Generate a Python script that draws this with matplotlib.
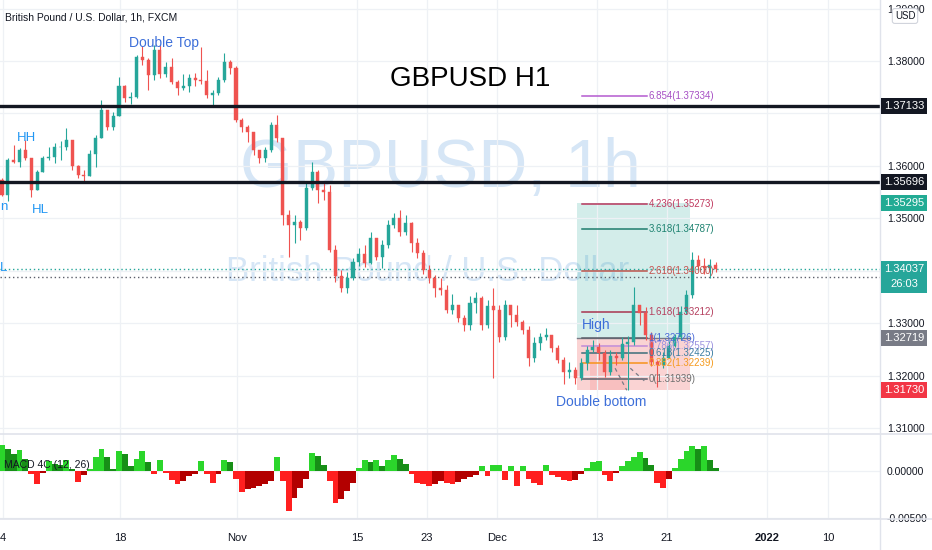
import numpy as np
import matplotlib
matplotlib.use("Agg")
import matplotlib.pyplot as plt
from matplotlib import font_manager, transforms
from matplotlib.patches import Rectangle
from matplotlib.lines import Line2D

first_open = 1.3573
closes = np.array([
    1.3544, 1.3611, 1.3607, 1.3630, 1.3615, 1.3554, 1.3588, 1.3615, 1.3617, 1.3636,
    1.3636, 1.3649, 1.3600, 1.3583, 1.3581, 1.3623, 1.3653, 1.3707, 1.3674, 1.3695,
    1.3752, 1.3729, 1.3731, 1.3808, 1.3802, 1.3773, 1.3821, 1.3775, 1.3789, 1.3760,
    1.3749, 1.3752, 1.3768, 1.3764, 1.3762, 1.3735, 1.3739, 1.3764, 1.3798, 1.3787,
    1.3688, 1.3674, 1.3665, 1.3630, 1.3615, 1.3630, 1.3678, 1.3653, 1.3506, 1.3487,
    1.3493, 1.3481, 1.3558, 1.3588, 1.3554, 1.3550, 1.3440, 1.3390, 1.3367, 1.3386,
    1.3417, 1.3432, 1.3415, 1.3462, 1.3426, 1.3449, 1.3487, 1.3501, 1.3474, 1.3491,
    1.3453, 1.3434, 1.3402, 1.3386, 1.3367, 1.3364, 1.3326, 1.3335, 1.3310, 1.3297,
    1.3339, 1.3348, 1.3297, 1.3333, 1.3326, 1.3273, 1.3335, 1.3316, 1.3302, 1.3287,
    1.3234, 1.3262, 1.3273, 1.3278, 1.3253, 1.3230, 1.3207, 1.3211, 1.3195, 1.3224,
    1.3249, 1.3255, 1.3243, 1.3207, 1.3237, 1.3234, 1.3260, 1.3264, 1.3335, 1.3320,
    1.3278, 1.3226, 1.3220, 1.3234, 1.3257, 1.3273, 1.3321, 1.3354, 1.3421, 1.3409,
    1.3405, 1.3411, 1.3404])
highs = np.array([
    1.3577, 1.3615, 1.3640, 1.3634, 1.3649, 1.3611, 1.3592, 1.3619, 1.3636, 1.3644,
    1.3647, 1.3672, 1.3634, 1.3602, 1.3592, 1.3630, 1.3659, 1.3726, 1.3707, 1.3703,
    1.3770, 1.3754, 1.3741, 1.3811, 1.3829, 1.3806, 1.3830, 1.3830, 1.3798, 1.3806,
    1.3764, 1.3775, 1.3775, 1.3777, 1.3827, 1.3783, 1.3745, 1.3770, 1.3815, 1.3802,
    1.3790, 1.3691, 1.3678, 1.3663, 1.3626, 1.3636, 1.3684, 1.3697, 1.3630, 1.3516,
    1.3506, 1.3497, 1.3567, 1.3607, 1.3592, 1.3567, 1.3564, 1.3449, 1.3402, 1.3398,
    1.3424, 1.3443, 1.3449, 1.3474, 1.3462, 1.3459, 1.3497, 1.3510, 1.3516, 1.3506,
    1.3493, 1.3462, 1.3440, 1.3411, 1.3392, 1.3386, 1.3373, 1.3356, 1.3335, 1.3316,
    1.3352, 1.3360, 1.3352, 1.3345, 1.3367, 1.3335, 1.3345, 1.3330, 1.3335, 1.3306,
    1.3295, 1.3273, 1.3282, 1.3291, 1.3274, 1.3258, 1.3235, 1.3226, 1.3216, 1.3234,
    1.3257, 1.3268, 1.3262, 1.3249, 1.3249, 1.3245, 1.3273, 1.3276, 1.3369, 1.3335,
    1.3330, 1.3284, 1.3230, 1.3245, 1.3268, 1.3280, 1.3333, 1.3364, 1.3436, 1.3430,
    1.3424, 1.3422, 1.3417])
lows = np.array([
    1.3543, 1.3533, 1.3605, 1.3598, 1.3611, 1.3541, 1.3554, 1.3592, 1.3611, 1.3605,
    1.3611, 1.3630, 1.3592, 1.3577, 1.3567, 1.3581, 1.3598, 1.3663, 1.3668, 1.3668,
    1.3703, 1.3722, 1.3718, 1.3729, 1.3792, 1.3745, 1.3764, 1.3768, 1.3770, 1.3756,
    1.3735, 1.3745, 1.3741, 1.3752, 1.3756, 1.3729, 1.3714, 1.3735, 1.3760, 1.3775,
    1.3684, 1.3665, 1.3646, 1.3621, 1.3605, 1.3607, 1.3626, 1.3646, 1.3487, 1.3426,
    1.3453, 1.3459, 1.3478, 1.3554, 1.3529, 1.3535, 1.3436, 1.3379, 1.3360, 1.3358,
    1.3382, 1.3409, 1.3407, 1.3413, 1.3421, 1.3405, 1.3443, 1.3481, 1.3466, 1.3468,
    1.3436, 1.3424, 1.3394, 1.3377, 1.3350, 1.3354, 1.3320, 1.3318, 1.3302, 1.3285,
    1.3287, 1.3320, 1.3287, 1.3291, 1.3195, 1.3264, 1.3268, 1.3293, 1.3295, 1.3280,
    1.3218, 1.3226, 1.3249, 1.3268, 1.3245, 1.3224, 1.3184, 1.3195, 1.3184, 1.3192,
    1.3211, 1.3245, 1.3230, 1.3197, 1.3201, 1.3220, 1.3230, 1.3173, 1.3258, 1.3297,
    1.3268, 1.3218, 1.3178, 1.3215, 1.3237, 1.3255, 1.3268, 1.3318, 1.3348, 1.3402,
    1.3394, 1.3386, 1.3398])
macd_hist = np.array([
    0.0027, 0.0023, 0.0018, 0.0022, 0.0013, -0.0003, -0.0014, -0.0002, 0.0010, 0.0007,
    0.0006, 0.0011, 0.0002, -0.0012, -0.0005, 0.0002, 0.0015, 0.0023, 0.0015, 0.0002,
    0.0021, 0.0018, 0.0005, 0.0013, 0.0021, 0.0009, -0.0004, 0.0011, -0.0002, -0.0010,
    -0.0014, -0.0011, -0.0006, -0.0004, 0.0010, -0.0004, -0.0013, -0.0003, 0.0011, 0.0009,
    -0.0009, -0.0023, -0.0020, -0.0019, -0.0016, -0.0014, -0.0011, 0.0015, -0.0011, -0.0043,
    -0.0029, -0.0019, -0.0009, 0.0019, 0.0016, 0.0006, -0.0011, -0.0035, -0.0030, -0.0022,
    -0.0013, 0.0003, 0.0011, 0.0009, 0.0011, 0.0005, 0.0011, 0.0017, 0.0012, 0.0007,
    -0.0003, -0.0013, -0.0014, -0.0016, -0.0014, -0.0011, -0.0013, -0.0014, -0.0012, -0.0009,
    -0.0007, -0.0005, 0.0005, -0.0006, 0.0006, 0.0006, -0.0010, 0.0005, -0.0016, 0.0005,
    -0.0009, -0.0013, -0.0015, 0.0006, -0.0005, -0.0007, -0.0010, -0.0011, -0.0010, -0.0004,
    0.0003, 0.0009, 0.0010, -0.0005, -0.0011, -0.0002, 0.0005, 0.0010, 0.0015, 0.0020,
    0.0014, 0.0006, -0.0013, -0.0019, -0.0009, 0.0003, 0.0013, 0.0021, 0.0026, 0.0023,
    0.0026, 0.0011, 0.0003])

# time axis in trading days since Oct 4
date_labels = ['4', '18', 'Nov', '15', '23', 'Dec', '13', '21', '2022', '10']
date_pos = [0.1, 10.1, 20.1, 30.35, 36.3, 42.3, 50.85, 56.85, 65.4, 70.6]

hlines = [1.37133, 1.35696]
last_price = 1.34037
prev_close = 1.3388
countdown = '26:03'
target, entry, stop = 1.35295, 1.32719, 1.31730
pos_start, pos_end = 49.15, 58.8

fib_ratios = [6.854, 4.236, 3.618, 2.618, 1.618, 1, 0.786, 0.618, 0.382, 0]
fib_prices = [1.37334, 1.35273, 1.34787, 1.34000, 1.33212, 1.32726, 1.32557, 1.32425, 1.32239, 1.31939]
fib_line_c = ['#b45ad0', '#b8365c', '#1e7d6e', '#b5524a', '#a8344f', '#5d606b', '#c08ad8', '#3d6e7a', '#f7931a', '#5d606b']
fib_text_c = ['#a64fc4', '#c0395f', '#1d8270', '#c4514d', '#b5405f', '#4a6ad8', '#9d93e0', '#3c7ea2', '#f59b1e', '#707070']
fib_start, fib_end = 49.6, 55.1
fib_trend_x = [52.4, 53.4, np.nan, 53.7, 55.0]
fib_trend_y = [1.3214, 1.3172, np.nan, 1.3214, 1.3188]

# ---- fonts ----
avail = {f.name for f in font_manager.fontManager.ttflist}
narrow = [f for f in ('Liberation Sans Narrow', 'Arial Narrow') if f in avail]
FONT = narrow[0] if narrow else 'Liberation Sans'
plt.rcParams['font.family'] = [FONT, 'DejaVu Sans']

W, H = 932, 550
fig = plt.figure(figsize=(W / 100, H / 100), dpi=100, facecolor='white')
ax = fig.add_axes([0, 1 - 434 / H, 880 / W, 434 / H])
ax2 = fig.add_axes([0, 1 - 519 / H, 880 / W, 85 / H], sharex=ax)

t = np.arange(len(closes)) * 0.5
ymin, ymax = 1.308857, 1.391634
ax.set_xlim(-0.171, 75.04)
ax.set_ylim(ymin, ymax)
pxp = (ymax - ymin) / 434  # price per pixel

UP, DN = '#26a69a', '#ef5350'
opens = np.concatenate([[first_open], closes[:-1]])
col = np.where(closes >= opens, UP, DN)
hi = np.maximum(highs, np.maximum(opens, closes))
lo = np.minimum(lows, np.minimum(opens, closes))
ax.vlines(t, lo, hi, colors=col, lw=0.8, zorder=4)
body = np.maximum(np.abs(closes - opens), 0.00008)
ax.bar(t, body, bottom=np.minimum(opens, closes), width=0.26, color=col,
       edgecolor=col, lw=0.3, zorder=5)

# watermarks and labels
wm = '#d6e6f6'
ax.text(0.5, 0.61, 'GBPUSD, 1h', transform=ax.transAxes, ha='center', va='center',
        fontsize=49, color=wm, zorder=0.5)
ax.text(0.486, 0.375, 'British Pound / U.S. Dollar', transform=ax.transAxes,
        ha='center', va='center', fontsize=25, color=wm, zorder=0.5)
ax.text(0.534, 0.818, 'GBPUSD H1', transform=ax.transAxes, ha='center', va='center',
        fontsize=20, color='black', zorder=6)

blue = '#3d6fd9'
ax.text(13.85, 1.3834, 'Double Top', ha='center', va='center', fontsize=10, color=blue, zorder=6)
ax.text(51.2, 1.3150, 'Double bottom', ha='center', va='center', fontsize=10, color=blue, zorder=6)
ax.text(49.57, 1.3297, 'High', ha='left', va='center', fontsize=10, color=blue, zorder=6)
ax.text(2.1, 1.3653, 'HH', ha='center', va='center', fontsize=9.5, color='#2196f3', zorder=6)
ax.text(3.25, 1.3516, 'HL', ha='center', va='center', fontsize=9.5, color='#2196f3', zorder=6)
ax.text(-0.2, 1.3522, 'n', ha='left', va='center', fontsize=9.5, color='#2196f3', zorder=6)
ax.text(-0.2, 1.3406, 'L', ha='left', va='center', fontsize=9.5, color='#2196f3', zorder=6)

# horizontal levels
for p in hlines:
    ax.axhline(p, color='#131722', lw=2.4, zorder=6)
ax.axhline(last_price, color='#26a69a', lw=1, ls=(0, (1, 2)), zorder=3)
ax.axhline(prev_close, color='#5d606b', lw=1, ls=(0, (1, 2)), zorder=3)

# long position tool
ax.add_patch(Rectangle((pos_start, entry), pos_end - pos_start, target - entry,
                       fc='#26a69a', alpha=0.2, lw=0, zorder=1))
ax.add_patch(Rectangle((pos_start, stop), pos_end - pos_start, entry - stop,
                       fc='#ef5350', alpha=0.25, lw=0, zorder=1))
ax.add_patch(Rectangle((50.26, stop), 3.16, 1.3255 - stop,
                       fc='#ef5350', alpha=0.15, lw=0, zorder=1))
ax.plot([pos_start, pos_end], [entry, entry], color='#787b86', lw=1, zorder=2)

# trend based fib extension
for r, p, lc, tc in zip(fib_ratios, fib_prices, fib_line_c, fib_text_c):
    ax.plot([fib_start, fib_end], [p, p], color=lc, lw=1.1, zorder=3)
    ax.text(fib_end + 0.15, p, f'{r:g}({p:.5f})', color=tc, fontsize=7,
            va='center', ha='left', zorder=6)
ax.plot(fib_trend_x, fib_trend_y, color='#787b86', lw=0.9, ls=(0, (3, 3)), zorder=3)

# price scale (labels under the level boxes are hidden, as on the screen)
yt = np.round(np.arange(1.31, 1.395, 0.01), 2)
ax.set_yticks(yt)
ax.set_yticklabels(['' if v in (1.34, 1.37) else f'{v:.5f}' for v in yt])
ax.yaxis.tick_right()
ax.tick_params(axis='y', length=0, pad=5, labelsize=7.5, labelcolor='#131722')
ax.tick_params(axis='x', length=0, labelbottom=False)
ax.grid(True, color='#eef1f5', lw=0.9, zorder=0)
for s in ax.spines.values():
    s.set_visible(False)

bt = transforms.blended_transform_factory(fig.transFigure, ax.transData)


def price_box(p, txt, fc, extra=0.0, sub=None):
    h = 8 * pxp
    fig.add_artist(Rectangle((881 / W, p - h - extra), 46 / W, 2 * h + extra,
                             transform=bt, fc=fc, ec='none', zorder=5))
    fig.text(904 / W, p, txt, transform=bt, ha='center', va='center',
             fontsize=8, color='white', zorder=6)
    if sub:
        fig.text(904 / W, p - 15 * pxp, sub, transform=bt, ha='center', va='center',
                 fontsize=8, color='white', zorder=6)


for p in hlines:
    price_box(p, f'{p:.5f}', '#131722')
price_box(target, f'{target:.5f}', '#22ab94')
price_box(last_price, f'{last_price:.5f}', '#26a69a', extra=16 * pxp, sub=countdown)
price_box(entry, f'{entry:.5f}', '#787b86')
price_box(stop, f'{stop:.5f}', '#f23645')

fig.text(905 / W, 1 - 16 / H, 'USD', ha='center', va='center', fontsize=7, color='#131722',
         bbox=dict(boxstyle='round,pad=0.25', fc='white', ec='#d1d4dc', lw=0.8), zorder=7)
fig.text(5 / W, 1 - 18 / H, 'British Pound / U.S. Dollar, 1h, FXCM', ha='left', va='center',
         fontsize=7.5, color='#131722', zorder=7)

# MACD 4C histogram
prev = np.concatenate([[macd_hist[0]], macd_hist[:-1]])
mcol = np.where(macd_hist >= 0,
                np.where(macd_hist >= prev, '#2bd62b', '#178f17'),
                np.where(macd_hist < prev, '#ff1f1f', '#b30000'))
ax2.bar(t, macd_hist, width=0.5, color=mcol, lw=0, zorder=3)
ax2.set_ylim(-0.00516, 0.00392)
ax2.set_yticks([0, -0.005])
ax2.set_yticklabels(['0.00000', '-0.00500'])
ax2.yaxis.tick_right()
ax2.tick_params(axis='y', length=0, pad=5, labelsize=7.5, labelcolor='#131722')
ax2.set_xticks(date_pos)
ax2.set_xticklabels(date_labels)
ax2.tick_params(axis='x', length=0, pad=10, labelsize=8, labelcolor='#131722')
for lab in ax2.get_xticklabels():
    if lab.get_text() == '2022':
        lab.set_fontweight('bold')
ax2.grid(True, color='#eef1f5', lw=0.9, zorder=0)
for s in ax2.spines.values():
    s.set_visible(False)
ax2.text(0.004, 0.635, 'MACD 4C (12, 26)', transform=ax2.transAxes, ha='left', va='center',
         fontsize=7.5, color='#131722', zorder=6)

# pane separators
sep = '#e0e3eb'
fig.add_artist(Line2D([0, 1], [1 - 434 / H, 1 - 434 / H], color=sep, lw=1.2, zorder=4))
fig.add_artist(Line2D([0, 1], [1 - 519 / H, 1 - 519 / H], color=sep, lw=1.2, zorder=4))
fig.add_artist(Line2D([880 / W, 880 / W], [0, 1], color=sep, lw=1.0, zorder=4))

fig.savefig('out.png', dpi=100, facecolor='white')
